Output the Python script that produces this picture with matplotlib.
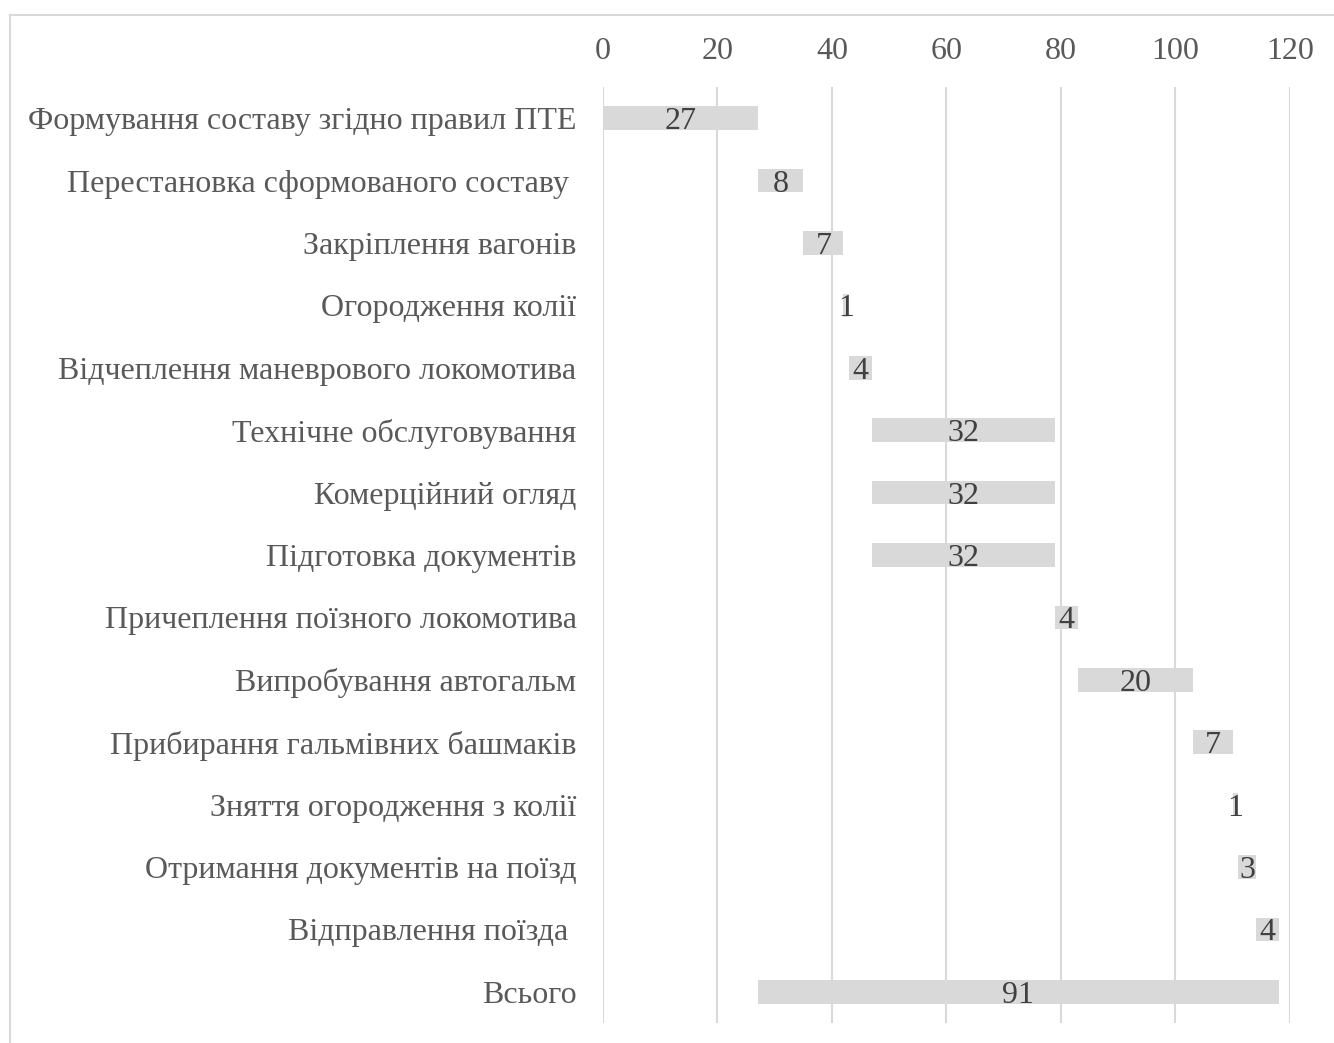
import matplotlib
matplotlib.use('Agg')
import matplotlib.pyplot as plt
from matplotlib.lines import Line2D

plt.rcParams['font.family'] = ['Liberation Serif', 'DejaVu Serif']

# operations of train dispatch, minutes
operations = ['Формування составу згідно правил ПТЕ',
              'Перестановка сформованого составу ',
              'Закріплення вагонів',
              'Огородження колії',
              'Відчеплення маневрового локомотива',
              'Технічне обслуговування',
              'Комерційний огляд',
              'Підготовка документів',
              'Причеплення поїзного локомотива',
              'Випробування автогальм',
              'Прибирання гальмівних башмаків',
              'Зняття огородження з колії',
              'Отримання документів на поїзд',
              'Відправлення поїзда ',
              'Всього']
start = [0, 27, 35, 42, 43, 47, 47, 47, 79, 83, 103, 110, 111, 114, 27]
duration = [27, 8, 7, 1, 4, 32, 32, 32, 4, 20, 7, 1, 3, 4, 91]
xticks = [0, 20, 40, 60, 80, 100, 120]

fig = plt.figure(figsize=(13.34, 10.43), dpi=100)
ax = fig.add_axes([0.452, 0.0192, 0.515, 0.8974])

ypos = list(range(len(operations)))
ax.barh(ypos, start, height=0.38, color='none')
bars = ax.barh(ypos, duration, left=start, height=0.38, color='#d9d9d9', zorder=2)
for b, d in zip(bars, duration):
    ax.text(b.get_x() + b.get_width() / 2, b.get_y() + b.get_height() / 2, str(d),
            ha='center', va='center_baseline', fontsize=23, color='#404040', zorder=3)

ax.set_xlim(0, 120)
ax.set_ylim(len(operations) - 0.5, -0.5)
ax.set_xticks(xticks)
ax.set_yticks(ypos)
ax.set_yticklabels(operations)
ax.xaxis.tick_top()
ax.tick_params(axis='x', length=0, pad=15, labelsize=23, labelcolor='#595959')
ax.tick_params(axis='y', length=0, pad=19, labelsize=23, labelcolor='#595959')
ax.grid(axis='x', color='#d9d9d9', linewidth=1.5, zorder=0)
ax.set_axisbelow(True)
for s in ax.spines.values():
    s.set_visible(False)

# outer frame
fig.add_artist(Line2D([10 / 1334, 10 / 1334], [0, 1 - 15 / 1043], color='#d9d9d9', linewidth=1.5))
fig.add_artist(Line2D([10 / 1334, 1], [1 - 15 / 1043, 1 - 15 / 1043], color='#d9d9d9', linewidth=1.5))

fig.savefig('out.png', dpi=100)
